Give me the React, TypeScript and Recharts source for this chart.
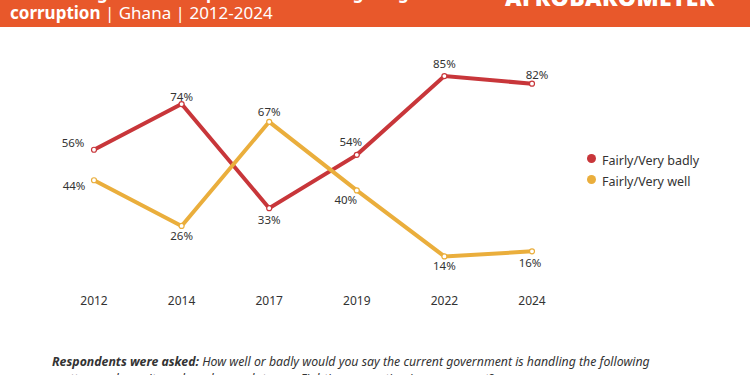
import { LineChart, Line, XAxis, YAxis } from 'recharts';

const years = ['2012', '2014', '2017', '2019', '2022', '2024'];
const fairlyVeryBadly = [56, 74, 33, 54, 85, 82];
const fairlyVeryWell = [44, 26, 67, 40, 14, 16];

const seriesNames = { badly: 'Fairly/Very badly', well: 'Fairly/Very well' };

const RED = '#C8363A';
const YELLOW = '#EAAE3C';
const ORANGE = '#E8582B';
const FONT = '"Noto Sans", "Open Sans", sans-serif';

// label nudges (dx, dy) per point, to keep labels clear of the lines
const badlyLabelOffsets: [number, number][] = [[-21, -7], [0, -8], [0, 11], [-6, -13], [0, -13], [5, -9]];
const wellLabelOffsets: [number, number][] = [[-20, 5], [0, 10], [0, -10], [-11, 9], [0, 9], [-2, 11]];

const data = years.map((year, i) => ({
  year,
  badly: fairlyVeryBadly[i],
  well: fairlyVeryWell[i],
}));

const makeLabel = (offsets: [number, number][]) => (props: any) => {
  const { x, y, value, index } = props;
  const [dx, dy] = offsets[index] || [0, -10];
  return (
    <text
      x={x + dx}
      y={y + dy}
      textAnchor="middle"
      dominantBaseline="central"
      fontSize={11.5}
      fontFamily={FONT}
      fill="#333"
    >
      {value}%
    </text>
  );
};

const legendItems = [
  { name: seriesNames.badly, color: RED },
  { name: seriesNames.well, color: YELLOW },
];

export default function App() {
  return (
    <div
      style={{
        position: 'absolute',
        top: 0,
        left: 0,
        width: 750,
        height: 375,
        overflow: 'hidden',
        background: '#fff',
        fontFamily: FONT,
      }}
    >
      <div
        style={{
          position: 'absolute',
          top: 0,
          left: 0,
          width: 750,
          height: 27,
          background: ORANGE,
          overflow: 'hidden',
          color: '#fff',
        }}
      >
        <div style={{ position: 'absolute', left: 10, top: -17, fontSize: 17, lineHeight: '20px', whiteSpace: 'nowrap' }}>
          <div style={{ fontWeight: 700 }}>Perceived government performance in fighting</div>
          <div>
            <span style={{ fontWeight: 700 }}>corruption</span> | Ghana | 2012-2024
          </div>
        </div>
        <div
          style={{
            position: 'absolute',
            left: 505,
            top: -16,
            fontSize: 23,
            fontWeight: 900,
            letterSpacing: 0.3,
            lineHeight: '26px',
          }}
        >
          AFROBAROMETER
        </div>
      </div>

      <div style={{ position: 'absolute', top: 0, left: 0 }}>
        <LineChart width={750} height={375} data={data} margin={{ top: 38, right: 218, left: 94, bottom: 53 }}>
          <XAxis
            dataKey="year"
            axisLine={false}
            tickLine={false}
            tickSize={0}
            tickMargin={4}
            height={30}
            tick={{ fontSize: 12, fill: '#333', fontFamily: FONT }}
          />
          <YAxis hide domain={[0, 100]} />
          <Line
            dataKey="badly"
            name={seriesNames.badly}
            stroke={RED}
            strokeWidth={4}
            dot={{ r: 2.5, fill: '#fff', stroke: RED, strokeWidth: 1.2 }}
            label={makeLabel(badlyLabelOffsets)}
            isAnimationActive={false}
          />
          <Line
            dataKey="well"
            name={seriesNames.well}
            stroke={YELLOW}
            strokeWidth={4}
            dot={{ r: 2.5, fill: '#fff', stroke: YELLOW, strokeWidth: 1.2 }}
            label={makeLabel(wellLabelOffsets)}
            isAnimationActive={false}
          />
        </LineChart>
      </div>

      <div style={{ position: 'absolute', left: 587, top: 150, fontSize: 12.5, color: '#333' }}>
        {legendItems.map((item) => (
          <div key={item.name} style={{ display: 'flex', alignItems: 'center', height: 21 }}>
            <span
              style={{
                width: 9,
                height: 9,
                borderRadius: '50%',
                background: item.color,
                display: 'inline-block',
                marginRight: 6,
                marginTop: -5,
              }}
            />
            {item.name}
          </div>
        ))}
      </div>

      <div
        style={{
          position: 'absolute',
          left: 52,
          top: 353,
          fontSize: 12.3,
          fontStyle: 'italic',
          color: '#333',
          lineHeight: '17px',
          width: 690,
          whiteSpace: 'nowrap',
        }}
      >
        <div>
          <b>Respondents were asked:</b> How well or badly would you say the current government is handling the following
        </div>
        <div>matters, or haven't you heard enough to say: Fighting corruption in government?</div>
      </div>
    </div>
  );
}
